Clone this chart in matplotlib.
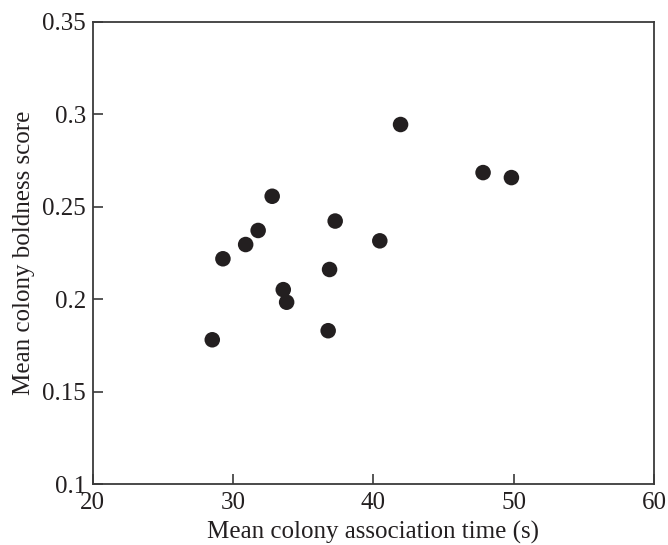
import matplotlib.pyplot as plt

# association time (s) vs boldness score
assoc_time = [32.79, 37.28, 31.79, 30.90, 29.28, 36.88, 33.58, 33.82, 36.78, 28.52,
              41.94, 47.82, 49.84, 40.46]
boldness = [0.2556, 0.2422, 0.2371, 0.2295, 0.2218, 0.2160, 0.2051, 0.1983, 0.1829, 0.1780,
            0.2944, 0.2684, 0.2657, 0.2315]

x_ticks = [20, 30, 40, 50, 60]
y_ticks = [0.1, 0.15, 0.2, 0.25, 0.3, 0.35]
y_tick_labels = ["0.1", "0.15", "0.2", "0.25", "0.3", "0.35"]

plt.rcParams['font.family'] = ['Liberation Serif', 'DejaVu Serif']

fig = plt.figure(figsize=(6.68, 5.45), dpi=100)
ax = fig.add_axes([0.1388, 0.1119, 0.8402, 0.8483])

ax.scatter(assoc_time, boldness, s=125, color='#231f20', edgecolors='none', zorder=3)

ax.set_xlim(20, 60)
ax.set_ylim(0.1, 0.35)
ax.set_xticks(x_ticks)
ax.set_yticks(y_ticks)
ax.set_yticklabels(y_tick_labels)
ax.tick_params(direction='in', length=7, width=1.2, color='#3a3a3a', labelsize=18,
               labelcolor='#231f20')
ax.tick_params(axis='x', pad=6)
ax.tick_params(axis='y', pad=5)

for side in ax.spines.values():
    side.set_linewidth(1.3)
    side.set_color('#3a3a3a')

ax.set_xlabel('Mean colony association time (s)', fontsize=18, color='#231f20', labelpad=5)
ax.set_ylabel('Mean colony boldness score', fontsize=18, color='#231f20', labelpad=5)

plt.savefig('out.png', dpi=100)
